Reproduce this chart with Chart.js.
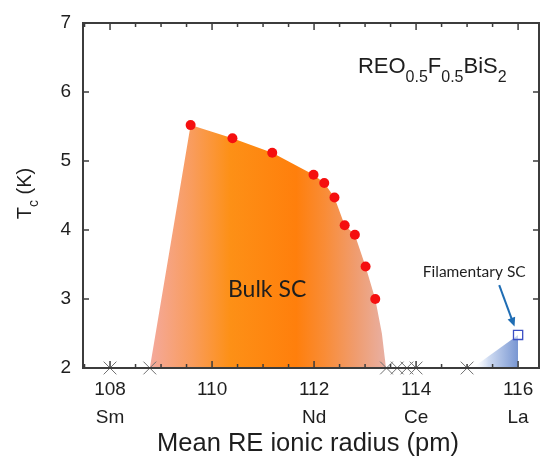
<!DOCTYPE html>
<html>
<head>
<meta charset="utf-8">
<script src="https://cdn.jsdelivr.net/npm/chart.js@4.4.0/dist/chart.umd.min.js"></script>
<style>
  html, body { margin: 0; padding: 0; background: #fff; }
  #wrap { width: 542px; height: 456px; }
</style>
</head>
<body>
<div id="wrap"><canvas id="chart"></canvas></div>
<script>
// ---- data ----
const xTicks = [108, 110, 112, 114, 116];
const xElements = ['Sm', '', 'Nd', 'Ce', 'La'];
const yTicks = [2, 3, 4, 5, 6, 7];
const xMinorStep = 0.5;

// measured Tc of bulk superconductors (red dots)
const tcRadius = [109.58, 110.4, 111.18, 111.99, 112.2, 112.4, 112.6, 112.8, 113.01, 113.2];
const tcValues = [5.52, 5.33, 5.12, 4.80, 4.68, 4.47, 4.07, 3.93, 3.47, 3.00];

// bulk SC region outline: left foot, the dots, then the curved right edge down to the axis
const bulkLeftRadius = [108.78];
const bulkLeftTc = [2];
const bulkRightRadius = [113.33, 113.41];
const bulkRightTc = [2.5, 2];

// samples without superconductivity (crosses on the axis)
const nonScRadius = [108.0, 108.78, 113.42, 113.63, 113.82, 114.0, 115.0];

// filamentary SC (La)
const filRadius = [115.1, 116.0, 116.0];
const filTc = [2, 2.48, 2];
const filPointRadius = [116.0];
const filPointTc = [2.48];

const pts = (xs, ys) => xs.map((v, i) => ({ x: v, y: ys[i] }));

const bulkOutline = pts(
  bulkLeftRadius.concat(tcRadius, bulkRightRadius),
  bulkLeftTc.concat(tcValues, bulkRightTc)
);

function bulkGradient(ctx) {
  const chart = ctx.chart;
  if (!chart.chartArea) return '#ff8c1a';
  const x = chart.scales.x;
  const x0 = x.getPixelForValue(bulkLeftRadius[0]);
  const x1 = x.getPixelForValue(bulkRightRadius[bulkRightRadius.length - 1]);
  const g = chart.ctx.createLinearGradient(x0, 0, x1, 0);
  g.addColorStop(0, '#f4a99c');
  g.addColorStop(0.18, '#f99c5c');
  g.addColorStop(0.34, '#fd9016');
  g.addColorStop(0.62, '#ff7f0c');
  g.addColorStop(0.74, '#f98c36');
  g.addColorStop(0.87, '#f09c6e');
  g.addColorStop(1, '#e8b0a4');
  return g;
}

function filGradient(ctx) {
  const chart = ctx.chart;
  if (!chart.chartArea) return '#9fb4e0';
  const x = chart.scales.x;
  const g = chart.ctx.createLinearGradient(x.getPixelForValue(filRadius[0]), 0, x.getPixelForValue(filRadius[1]), 0);
  g.addColorStop(0, 'rgba(255,255,255,0)');
  g.addColorStop(0.35, '#d0dcf2');
  g.addColorStop(1, '#7896d2');
  return g;
}

// frame, inward ticks and all the annotation text
const decorations = {
  id: 'decorations',
  afterDatasetsDraw(chart) {
    const { ctx, chartArea: a, scales: { x, y } } = chart;
    ctx.save();

    // axes box
    ctx.strokeStyle = '#3c3c3c';
    ctx.lineWidth = 2;
    ctx.strokeRect(a.left, a.top, a.right - a.left, a.bottom - a.top);

    ctx.lineWidth = 1.5;
    ctx.beginPath();
    for (let v = Math.ceil(x.min / xMinorStep) * xMinorStep; v <= x.max; v += xMinorStep) {
      const px = x.getPixelForValue(v);
      const len = xTicks.includes(v) ? 7 : 4;
      ctx.moveTo(px, a.bottom); ctx.lineTo(px, a.bottom - len);
      ctx.moveTo(px, a.top); ctx.lineTo(px, a.top + len);
    }
    yTicks.forEach(v => {
      const py = y.getPixelForValue(v);
      ctx.moveTo(a.left, py); ctx.lineTo(a.left + 6, py);
      ctx.moveTo(a.right, py); ctx.lineTo(a.right - 6, py);
    });
    ctx.stroke();

    ctx.fillStyle = '#1e1e1e';

    // y title: T_c (K)
    ctx.save();
    ctx.font = '20px "Liberation Sans", Arial, sans-serif';
    const wT = ctx.measureText('T').width;
    const wK = ctx.measureText(' (K)').width;
    ctx.font = '14px "Liberation Sans", Arial, sans-serif';
    const wc = ctx.measureText('c').width;
    const total = wT + wc + wK;
    ctx.translate(31, (a.top + a.bottom) / 2 + total / 2 - 2);
    ctx.rotate(-Math.PI / 2);
    ctx.textBaseline = 'alphabetic';
    ctx.textAlign = 'left';
    ctx.font = '20px "Liberation Sans", Arial, sans-serif';
    ctx.fillText('T', 0, 0);
    ctx.font = '14px "Liberation Sans", Arial, sans-serif';
    ctx.fillText('c', wT, 7);
    ctx.font = '20px "Liberation Sans", Arial, sans-serif';
    ctx.fillText(' (K)', wT + wc, 0);
    ctx.restore();

    // x title
    ctx.font = '25.5px "Liberation Sans", Arial, sans-serif';
    ctx.textAlign = 'center';
    ctx.textBaseline = 'alphabetic';
    ctx.fillText('Mean RE ionic radius (pm)', (a.left + a.right) / 2 - 3, 451);

    // formula REO0.5F0.5BiS2
    const parts = [['REO', 0], ['0.5', 1], ['F', 0], ['0.5', 1], ['BiS', 0], ['2', 1]];
    let fx = x.getPixelForValue(112.86);
    const fy = y.getPixelForValue(6.28);
    ctx.textAlign = 'left';
    parts.forEach(([t, sub]) => {
      ctx.font = sub ? '16px "Liberation Sans", Arial, sans-serif' : '22px "Liberation Sans", Arial, sans-serif';
      ctx.fillText(t, fx, fy + (sub ? 9 : 0));
      fx += ctx.measureText(t).width;
    });

    // region labels
    ctx.textAlign = 'center';
    ctx.textBaseline = 'middle';
    ctx.font = '23px Lato, "Open Sans", sans-serif';
    ctx.fillText('Bulk SC', x.getPixelForValue(111.08), y.getPixelForValue(3.14));
    ctx.font = '15.5px Lato, "Open Sans", sans-serif';
    ctx.fillText('Filamentary SC', x.getPixelForValue(115.14), y.getPixelForValue(3.39));

    // arrow to the filamentary point
    const ax0 = x.getPixelForValue(115.63), ay0 = y.getPixelForValue(3.2);
    const ax1 = x.getPixelForValue(115.93), ay1 = y.getPixelForValue(2.6);
    const ang = Math.atan2(ay1 - ay0, ax1 - ax0);
    ctx.strokeStyle = '#1f6db4';
    ctx.fillStyle = '#1f6db4';
    ctx.lineWidth = 2;
    ctx.beginPath();
    ctx.moveTo(ax0, ay0);
    ctx.lineTo(ax1 - 5 * Math.cos(ang), ay1 - 5 * Math.sin(ang));
    ctx.stroke();
    ctx.beginPath();
    ctx.moveTo(ax1, ay1);
    ctx.lineTo(ax1 - 9 * Math.cos(ang) + 4 * Math.sin(ang), ay1 - 9 * Math.sin(ang) - 4 * Math.cos(ang));
    ctx.lineTo(ax1 - 9 * Math.cos(ang) - 4 * Math.sin(ang), ay1 - 9 * Math.sin(ang) + 4 * Math.cos(ang));
    ctx.closePath();
    ctx.fill();

    ctx.restore();
  }
};

new Chart(document.getElementById('chart'), {
  type: 'scatter',
  data: {
    datasets: [
      {
        label: 'Bulk SC region',
        type: 'line',
        data: bulkOutline,
        showLine: true,
        fill: 'start',
        backgroundColor: bulkGradient,
        borderWidth: 0,
        borderColor: 'rgba(0,0,0,0)',
        pointRadius: 0,
        tension: 0,
        order: 3
      },
      {
        label: 'Filamentary SC region',
        type: 'line',
        data: pts(filRadius, filTc),
        showLine: true,
        fill: 'start',
        backgroundColor: filGradient,
        borderWidth: 0,
        borderColor: 'rgba(0,0,0,0)',
        pointRadius: 0,
        order: 3
      },
      {
        label: 'Non SC',
        data: nonScRadius.map(v => ({ x: v, y: yTicks[0] })),
        pointStyle: 'crossRot',
        pointRadius: 9,
        borderColor: '#707070',
        borderWidth: 1,
        clip: false,
        order: 2
      },
      {
        label: 'Tc',
        data: pts(tcRadius, tcValues),
        pointStyle: 'circle',
        pointRadius: 5,
        backgroundColor: '#f50f0f',
        borderColor: '#f50f0f',
        borderWidth: 0,
        clip: false,
        order: 1
      },
      {
        label: 'Filamentary',
        data: pts(filPointRadius, filPointTc),
        pointStyle: 'rect',
        pointRadius: 6.5,
        backgroundColor: 'rgba(255,255,255,0.6)',
        borderColor: '#3b4fc4',
        borderWidth: 1.3,
        clip: false,
        order: 1
      }
    ]
  },
  options: {
    responsive: true,
    maintainAspectRatio: false,
    animation: false,
    layout: { autoPadding: false, padding: { top: 23, right: 3, left: 0, bottom: 0 } },
    plugins: {
      legend: { display: false },
      tooltip: { enabled: false }
    },
    scales: {
      x: {
        type: 'linear',
        min: 107.47,
        max: 116.41,
        grid: { display: false, drawTicks: false },
        border: { display: false },
        afterBuildTicks: s => { s.ticks = xTicks.map(v => ({ value: v })); },
        afterFit: s => { s.height = 88; s.paddingLeft = 0; s.paddingRight = 0; },
        ticks: {
          autoSkip: false,
          maxRotation: 0,
          padding: 8,
          color: '#1e1e1e',
          font: { family: '"Liberation Sans", Arial, sans-serif', size: 19, lineHeight: 1.45 },
          callback: v => [String(v), xElements[xTicks.indexOf(v)]]
        }
      },
      y: {
        type: 'linear',
        min: 2,
        max: 7,
        grid: { display: false, drawTicks: false },
        border: { display: false },
        afterBuildTicks: s => { s.ticks = yTicks.map(v => ({ value: v })); },
        afterFit: s => { s.width = 83; s.paddingTop = 0; s.paddingBottom = 0; },
        ticks: {
          padding: 12,
          color: '#1e1e1e',
          font: { family: '"Liberation Sans", Arial, sans-serif', size: 19 }
        }
      }
    }
  },
  plugins: [decorations]
});
</script>
</body>
</html>
